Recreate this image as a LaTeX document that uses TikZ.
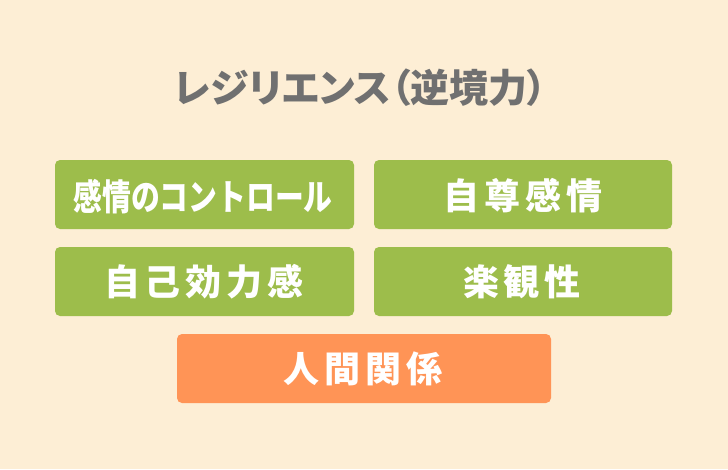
\documentclass[tikz,border=0pt]{standalone}
\usepackage{fontspec}
\newfontfamily\jp{Noto Sans CJK JP}
\newfontfamily\jpp[RawFeature=+palt]{Noto Sans CJK JP}
\definecolor{bgc}{HTML}{FDEED5}
\definecolor{grn}{HTML}{9DBD4B}
\definecolor{org}{HTML}{FF9456}
\definecolor{ttl}{HTML}{707070}
\tikzset{
  box/.style={fill=#1, rounded corners=5pt, draw=none},
  lbl/.style={text=white, font=\jp\bfseries\fontsize{36}{36}\selectfont, inner sep=0pt, anchor=center},
}
\begin{document}
\begin{tikzpicture}[x=1pt,y=-1pt]
\fill[bgc] (0,0) rectangle (728,469);
\useasboundingbox (0,0) rectangle (728,469);
\node[text=ttl, font=\jpp\bfseries\fontsize{39}{39}\selectfont, inner sep=0pt] (title) at (360.5,87.5) {レジリエンス（逆境力）};
\fill[box=grn] (55,160) rectangle (354,229);
\fill[box=grn] (374,160) rectangle (672,229);
\fill[box=grn] (55,247) rectangle (354,316);
\fill[box=grn] (374,247) rectangle (672,316);
\fill[box=org] (177,334) rectangle (551,403);
\node[lbl] (a) at (203,197) {\scalebox{0.80}[1]{感情のコントロール}};
\node[lbl] (b) at (523,196) {自\kern5pt 尊\kern5pt 感\kern5pt 情};
\node[lbl] (c) at (204,282) {自\kern5pt 己\kern5pt 効\kern5pt 力\kern5pt 感};
\node[lbl] (d) at (522,282) {楽\kern5pt 観\kern5pt 性};
\node[lbl] (e) at (363,369) {人\kern5pt 間\kern5pt 関\kern5pt 係};
\end{tikzpicture}
\end{document}
